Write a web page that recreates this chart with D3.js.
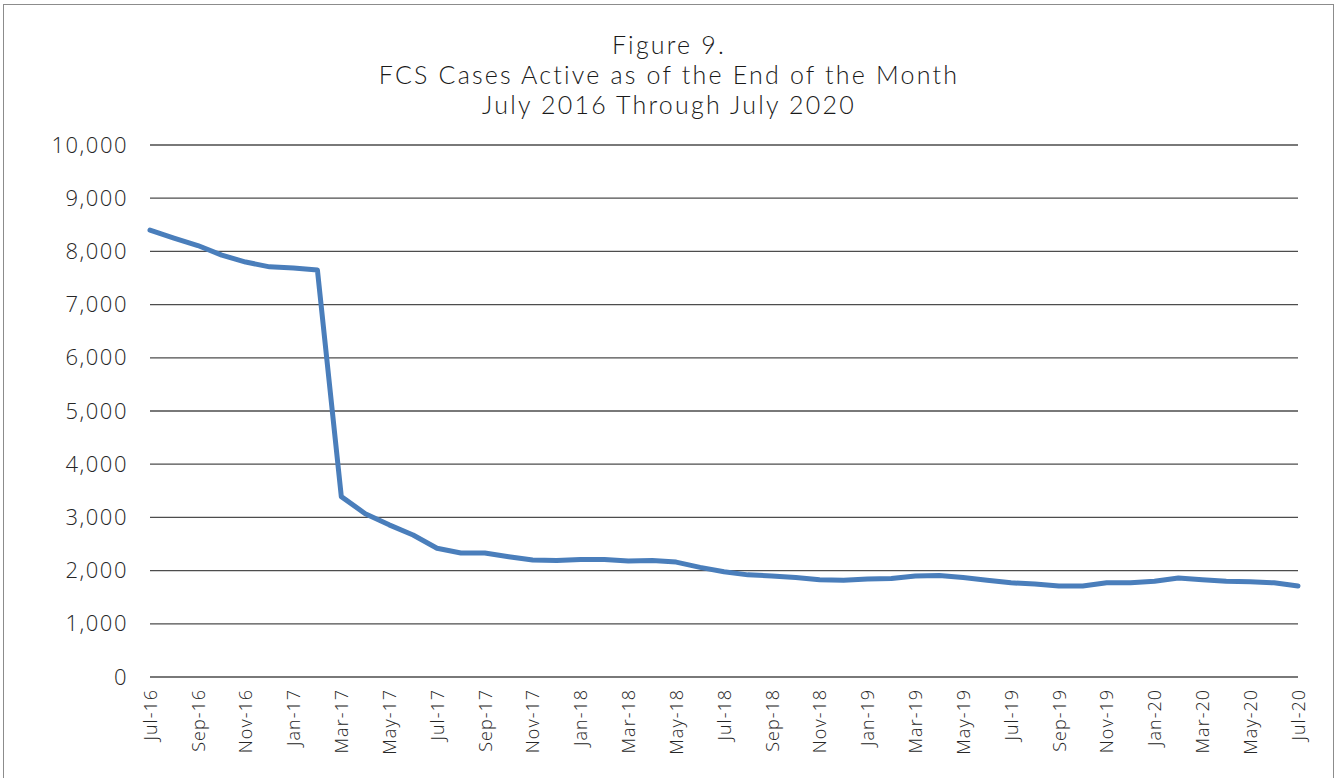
<!DOCTYPE html>
<html>
<head>
<meta charset="utf-8">
<script src="https://cdn.jsdelivr.net/npm/d3@7"></script>
<style>
  body { margin: 0; background: #fff; }
</style>
</head>
<body>
<div id="chart"></div>
<script>
// monthly labels, Jul-16 through Jul-20
const months = ["Jul-16","Aug-16","Sep-16","Oct-16","Nov-16","Dec-16","Jan-17","Feb-17","Mar-17","Apr-17",
  "May-17","Jun-17","Jul-17","Aug-17","Sep-17","Oct-17","Nov-17","Dec-17","Jan-18","Feb-18",
  "Mar-18","Apr-18","May-18","Jun-18","Jul-18","Aug-18","Sep-18","Oct-18","Nov-18","Dec-18",
  "Jan-19","Feb-19","Mar-19","Apr-19","May-19","Jun-19","Jul-19","Aug-19","Sep-19","Oct-19",
  "Nov-19","Dec-19","Jan-20","Feb-20","Mar-20","Apr-20","May-20","Jun-20","Jul-20"];

// active cases at month end
const cases = [8400,8250,8110,7930,7800,7710,7690,7650,3390,3070,
  2860,2670,2420,2330,2330,2260,2200,2190,2210,2210,
  2180,2190,2160,2060,1980,1920,1900,1870,1830,1820,
  1840,1850,1900,1910,1870,1820,1770,1750,1710,1710,
  1770,1770,1800,1860,1830,1800,1790,1770,1710];

const yTicks = [0,1000,2000,3000,4000,5000,6000,7000,8000,9000,10000];

const titleLines = ["Figure 9.", "FCS Cases Active as of the End of the Month", "July 2016 Through July 2020"];

const W = 1334, H = 778;
const margin = {top: 145, right: 36, bottom: 101, left: 150};
const width = W - margin.left - margin.right,
      height = H - margin.top - margin.bottom;

const root = d3.select("#chart")
  .append("svg")
  .attr("width", W)
  .attr("height", H);

// outer frame
root.append("rect")
  .attr("x", 3.5).attr("y", 4.5)
  .attr("width", W - 4).attr("height", H - 2)
  .attr("fill", "none")
  .attr("stroke", "#8c8c8c")
  .attr("stroke-width", 1);

// title
root.append("g")
  .selectAll("text")
  .data(titleLines)
  .join("text")
  .attr("x", 669)
  .attr("y", (d, i) => 54 + i * 30)
  .attr("text-anchor", "middle")
  .style("font-family", "Lato, sans-serif")
  .style("font-weight", 300)
  .style("font-size", "25px")
  .style("letter-spacing", "2.2px")
  .attr("fill", "#1a1a1a")
  .text(d => d);

const svg = root.append("g")
  .attr("transform", `translate(${margin.left},${margin.top})`);

const x = d3.scalePoint()
  .domain(months)
  .range([0, width]);

const y = d3.scaleLinear()
  .domain([0, 10000])
  .range([height, 0]);

// gridlines
svg.append("g")
  .selectAll("line")
  .data(yTicks)
  .join("line")
  .attr("x1", 0)
  .attr("x2", width)
  .attr("y1", d => y(d))
  .attr("y2", d => y(d))
  .attr("stroke", "#4d4d4d")
  .attr("stroke-width", 1.3);

// y axis labels
const yAxis = svg.append("g")
  .call(d3.axisLeft(y).tickValues(yTicks).tickFormat(d3.format(",")).tickSize(0).tickPadding(22));
yAxis.select(".domain").remove();
yAxis.selectAll("text")
  .style("font-family", "'Open Sans', sans-serif")
  .style("font-weight", 300)
  .style("font-size", "22px")
  .style("letter-spacing", "1.5px")
  .attr("fill", "#262626");

// x axis labels, every second month
const xAxis = svg.append("g")
  .attr("transform", `translate(0,${height})`)
  .call(d3.axisBottom(x).tickValues(months.filter((d, i) => i % 2 === 0)).tickSize(0));
xAxis.select(".domain").remove();
xAxis.selectAll("text")
  .style("font-family", "'Open Sans', sans-serif")
  .style("font-weight", 300)
  .style("font-size", "18px")
  .style("letter-spacing", "1px")
  .attr("fill", "#262626")
  .attr("text-anchor", "end")
  .attr("dy", "0.35em")
  .attr("transform", "translate(0,12) rotate(-90)")
  .attr("x", 0)
  .attr("y", 0);

// the line
const line = d3.line()
  .x((d, i) => x(months[i]))
  .y(d => y(d));

svg.append("path")
  .datum(cases)
  .attr("d", line)
  .attr("fill", "none")
  .attr("stroke", "#4a7ebb")
  .attr("stroke-width", 5)
  .attr("stroke-linejoin", "round")
  .attr("stroke-linecap", "round");
</script>
</body>
</html>
